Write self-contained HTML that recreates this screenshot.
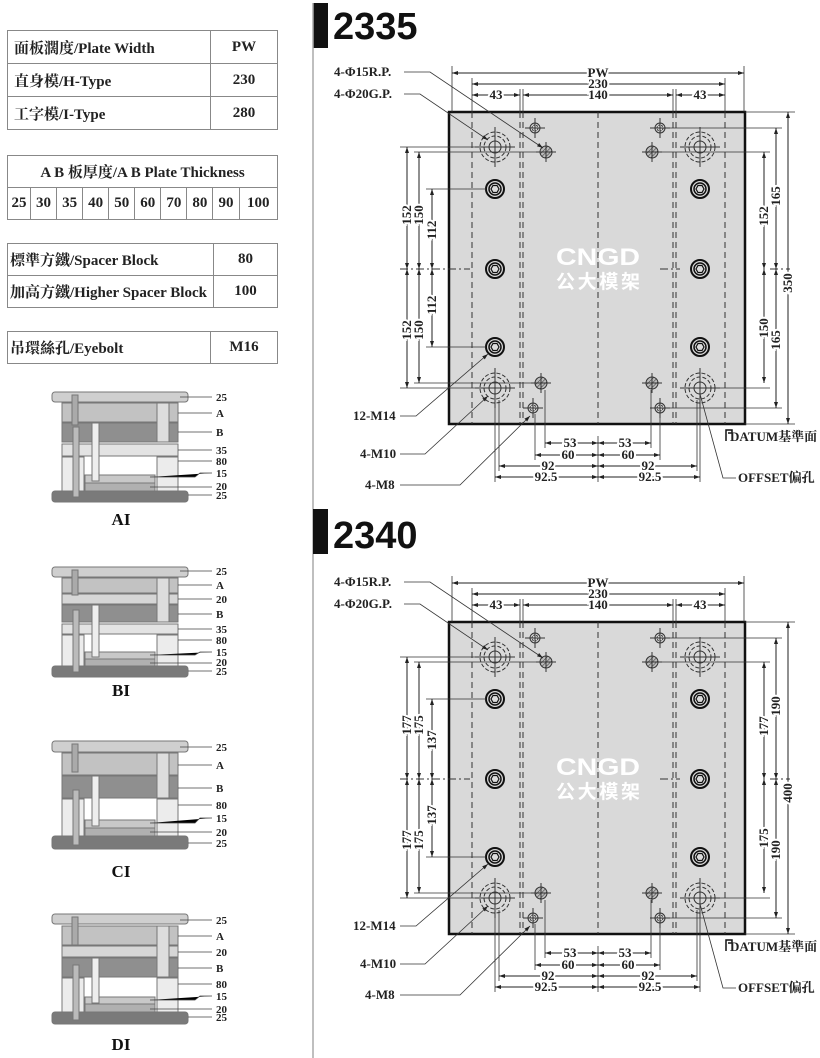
<!DOCTYPE html>
<html><head><meta charset="utf-8">
<style>
html,body{margin:0;padding:0;background:#fff;}
body{width:820px;height:1058px;position:relative;overflow:hidden;font-family:"Liberation Serif","Noto Serif CJK SC",serif;}
table{position:absolute;left:7px;border-collapse:collapse;font-weight:bold;font-size:15px;color:#222;}
td{border:1.5px solid #888;padding:0 6px;height:31px;font-family:"Liberation Serif","Noto Serif CJK SC",serif;}
td.v{text-align:center;width:54px;}
.t1 td{height:32px;}
.t2 td{padding:0;text-align:center;}
svg{position:absolute;left:0;top:0;}
.d{font:bold 13px "Liberation Serif",serif;fill:#222;stroke:#fff;stroke-width:4px;paint-order:stroke;}
.l{font:bold 13px "Liberation Serif","Noto Serif CJK SC",serif;fill:#222;}
.m{font:bold 11px "Liberation Serif",serif;fill:#222;}
</style></head><body>
<table class="t1" style="top:30px;width:271px;">
<tr><td>面板濶度/Plate Width</td><td class="v">PW</td></tr>
<tr><td>直身模/H-Type</td><td class="v">230</td></tr>
<tr><td>工字模/I-Type</td><td class="v">280</td></tr>
</table>
<table class="t2" style="top:155px;width:271px;">
<tr><td colspan="10">A B 板厚度/A B Plate Thickness</td></tr>
<tr><td style="width:22px">25</td><td>30</td><td>35</td><td>40</td><td>50</td><td>60</td><td>70</td><td>80</td><td>90</td><td>100</td></tr>
</table>
<table style="top:243px;width:271px;">
<tr><td style="padding-left:2px">標準方鐵/Spacer Block</td><td class="v">80</td></tr>
<tr><td style="padding-left:2px;white-space:nowrap">加高方鐵/Higher Spacer Block</td><td class="v">100</td></tr>
</table>
<table style="top:331px;width:271px;">
<tr><td style="padding-left:2px">吊環絲孔/Eyebolt</td><td class="v">M16</td></tr>
</table>

<svg width="820" height="1058" viewBox="0 0 820 1058">
<defs>
<marker id="a" markerWidth="6" markerHeight="6" refX="6" refY="3" orient="auto-start-reverse" markerUnits="userSpaceOnUse"><path d="M0,1 L6,3 L0,5z" fill="#222"/></marker>
<pattern id="h" width="3" height="3" patternUnits="userSpaceOnUse" patternTransform="rotate(45)"><rect width="3" height="3" fill="#bbb"/><line x1="0" y1="0" x2="0" y2="3" stroke="#333" stroke-width="1"/></pattern>
<g id="scr"><circle r="9" fill="none" stroke="#111" stroke-width="2"/><circle r="6" fill="#ddd" stroke="#111" stroke-width="1.5"/><path d="M4,0 L2,3.5 L-2,3.5 L-4,0 L-2,-3.5 L2,-3.5z" fill="none" stroke="#111" stroke-width="1.2"/></g>
<g id="gp" fill="none" stroke="#333"><circle r="15" stroke-dasharray="4 2"/><circle r="11" stroke-dasharray="4 2"/><circle r="6"/><path d="M-20,0 H20 M0,-20 V20"/></g>
<g id="rp"><circle r="6" fill="url(#h)" stroke="#333"/><path d="M-10,0 H10 M0,-10 V10" stroke="#333"/></g>
<g id="m8" fill="none" stroke="#333"><circle r="5"/><circle r="3" stroke-dasharray="2 1"/><path d="M-10,0 H10 M0,-10 V10"/></g>
<g id="plate">
<rect x="449" y="112" width="296" height="312" fill="#d9d9d9" stroke="#111" stroke-width="2.5"/>
<g stroke="#333" stroke-width="1" stroke-dasharray="6 4" fill="none">
<path d="M472,112V424 M520,112V424 M523,112V424 M598,112V424 M673,112V424 M676,112V424 M725,112V424"/>
</g>
<path d="M400,269 H470 M660,269 H680 M770,269 H790" stroke="#333" stroke-dasharray="8 3 2 3"/>
<use href="#scr" x="495" y="189"/><use href="#scr" x="495" y="269"/><use href="#scr" x="495" y="347"/>
<use href="#scr" x="700" y="189"/><use href="#scr" x="700" y="269"/><use href="#scr" x="700" y="347"/>
<use href="#gp" x="495" y="147"/><use href="#gp" x="700" y="147"/><use href="#gp" x="495" y="388"/><use href="#gp" x="700" y="388"/>
<use href="#rp" x="546" y="152"/><use href="#rp" x="652" y="152"/><use href="#rp" x="541" y="383"/><use href="#rp" x="652" y="383"/>
<use href="#m8" x="535" y="128"/><use href="#m8" x="660" y="128"/><use href="#m8" x="533" y="408"/><use href="#m8" x="660" y="408"/>
<g stroke="#333" stroke-width="0.8" fill="none">
<path d="M452,66V112 M744,66V112 M472,78V112 M725,78V112 M520,89V112 M523,89V112 M673,89V112 M676,89V112"/>
<path d="M400,147H480 M414,152H540 M426,189H486 M426,347H486 M414,383H535 M400,388H480"/>
<path d="M660,128H782 M655,152H770 M706,388H770 M660,408H782 M745,112H795 M745,424H795"/>
<path d="M545,390V448 M651,390V448 M535,414V460 M660,414V460 M499,400V471 M697,400V471 M495,400V482 M700,400V482 M598,436V482"/>
</g>
<g stroke="#222" stroke-width="1" marker-start="url(#a)" marker-end="url(#a)">
<line x1="452" y1="73" x2="744" y2="73"/><line x1="472" y1="84" x2="725" y2="84"/>
<line x1="472" y1="95" x2="520" y2="95"/><line x1="523" y1="95" x2="673" y2="95"/><line x1="676" y1="95" x2="725" y2="95"/>
<line x1="407" y1="147" x2="407" y2="269"/><line x1="407" y1="269" x2="407" y2="388"/>
<line x1="419" y1="152" x2="419" y2="269"/><line x1="419" y1="269" x2="419" y2="383"/>
<line x1="432" y1="189" x2="432" y2="269"/><line x1="432" y1="269" x2="432" y2="347"/>
<line x1="764" y1="152" x2="764" y2="269"/><line x1="764" y1="269" x2="764" y2="383"/>
<line x1="776" y1="128" x2="776" y2="269"/><line x1="776" y1="269" x2="776" y2="408"/>
<line x1="788" y1="112" x2="788" y2="424"/>
<line x1="545" y1="443" x2="598" y2="443"/><line x1="598" y1="443" x2="651" y2="443"/>
<line x1="535" y1="455" x2="598" y2="455"/><line x1="598" y1="455" x2="660" y2="455"/>
<line x1="499" y1="466" x2="598" y2="466"/><line x1="598" y1="466" x2="697" y2="466"/>
<line x1="495" y1="477" x2="598" y2="477"/><line x1="598" y1="477" x2="700" y2="477"/>
</g>
<g stroke="#333" stroke-width="0.8" fill="none" marker-end="url(#a)">
<path d="M404,72H430L543,148"/><path d="M404,94H420L488,140"/>
<path d="M400,416H416L488,354"/><path d="M400,454H425L488,396"/><path d="M400,485H460L530,416"/>
</g>
<path d="M736,478H723L700,394" stroke="#333" stroke-width="0.8" fill="none"/>
<path d="M726,441V430H732V433H728" stroke="#111" stroke-width="1.5" fill="none"/>
<text x="556" y="265" font-family="Liberation Sans,sans-serif" font-weight="bold" font-size="24" fill="#fff" textLength="84" lengthAdjust="spacingAndGlyphs">CNGD</text>
<text x="556" y="288" font-family="Noto Sans CJK SC,sans-serif" font-weight="bold" font-size="19" fill="#fff" textLength="84" lengthAdjust="spacing">公大模架</text>
<g class="d" text-anchor="middle">
<text x="598" y="77">PW</text><text x="598" y="88">230</text>
<text x="496" y="99">43</text><text x="598" y="99">140</text><text x="700" y="99">43</text>
<text x="570" y="447">53</text><text x="625" y="447">53</text>
<text x="568" y="459">60</text><text x="628" y="459">60</text>
<text x="548" y="470">92</text><text x="648" y="470">92</text>
<text x="546" y="481">92.5</text><text x="650" y="481">92.5</text>
</g>
<g class="l"><text x="334" y="76">4-Φ15R.P.</text><text x="334" y="98">4-Φ20G.P.</text>
<text x="353" y="420">12-M14</text><text x="360" y="458">4-M10</text><text x="365" y="489">4-M8</text>
<text x="730" y="441">DATUM基準面</text><text x="738" y="482">OFFSET偏孔</text></g>
</g>
</defs>

<rect x="313" y="3" width="15" height="45" fill="#111"/>
<line x1="313" y1="3" x2="313" y2="1058" stroke="#aaa" stroke-width="1.5"/>
<rect x="313" y="509" width="15" height="45" fill="#111"/>
<text x="333" y="39" font-family="Liberation Sans,sans-serif" font-weight="bold" font-size="38" fill="#111">2335</text>
<text x="333" y="548" font-family="Liberation Sans,sans-serif" font-weight="bold" font-size="38" fill="#111">2340</text>

<use href="#plate"/>
<use href="#plate" y="510"/>

<g class="d" text-anchor="middle">
<text transform="translate(411,215) rotate(-90)">152</text><text transform="translate(423,215) rotate(-90)">150</text><text transform="translate(436,230) rotate(-90)">112</text>
<text transform="translate(411,330) rotate(-90)">152</text><text transform="translate(423,330) rotate(-90)">150</text><text transform="translate(436,305) rotate(-90)">112</text>
<text transform="translate(768,216) rotate(-90)">152</text><text transform="translate(780,196) rotate(-90)">165</text>
<text transform="translate(768,328) rotate(-90)">150</text><text transform="translate(780,340) rotate(-90)">165</text>
<text transform="translate(792,283) rotate(-90)">350</text>
</g>
<g class="d" text-anchor="middle" transform="translate(0,510)">
<text transform="translate(411,215) rotate(-90)">177</text><text transform="translate(423,215) rotate(-90)">175</text><text transform="translate(436,230) rotate(-90)">137</text>
<text transform="translate(411,330) rotate(-90)">177</text><text transform="translate(423,330) rotate(-90)">175</text><text transform="translate(436,305) rotate(-90)">137</text>
<text transform="translate(768,216) rotate(-90)">177</text><text transform="translate(780,196) rotate(-90)">190</text>
<text transform="translate(768,328) rotate(-90)">175</text><text transform="translate(780,340) rotate(-90)">190</text>
<text transform="translate(792,283) rotate(-90)">400</text>
</g>

<g stroke="#777" stroke-width="1">
<rect x="52" y="392" width="136" height="10" rx="3" fill="#cfcfcf"/>
<rect x="62" y="403" width="116" height="19" fill="#c2c2c2"/>
<rect x="62" y="423" width="116" height="19" fill="#8f8f8f"/>
<rect x="62" y="444" width="116" height="12" fill="#e3e3e3"/>
<rect x="62" y="457" width="22" height="34" fill="#ececec"/><rect x="157" y="457" width="21" height="34" fill="#ececec"/>
<rect x="85" y="475" width="70" height="8" fill="#c8c8c8"/><rect x="85" y="483" width="70" height="8" fill="#b0b0b0"/>
<rect x="52" y="491" width="136" height="11" rx="3" fill="#7a7a7a"/>
<rect x="92" y="423" width="7" height="58" fill="#eee"/><rect x="157" y="403" width="12" height="39" fill="#ddd"/>
<rect x="72" y="395" width="6" height="30" fill="#aaa"/><rect x="73" y="427" width="6" height="70" fill="#bbb"/>

<rect x="52" y="567" width="136" height="10" rx="3" fill="#cfcfcf"/>
<rect x="62" y="578" width="116" height="15" fill="#c2c2c2"/>
<rect x="62" y="594" width="116" height="10" fill="#d6d6d6"/>
<rect x="62" y="605" width="116" height="17" fill="#8f8f8f"/>
<rect x="62" y="624" width="116" height="10" fill="#e3e3e3"/>
<rect x="62" y="635" width="22" height="31" fill="#ececec"/><rect x="157" y="635" width="21" height="31" fill="#ececec"/>
<rect x="85" y="652" width="70" height="7" fill="#c8c8c8"/><rect x="85" y="659" width="70" height="7" fill="#b0b0b0"/>
<rect x="52" y="666" width="136" height="11" rx="3" fill="#7a7a7a"/>
<rect x="92" y="605" width="7" height="52" fill="#eee"/><rect x="157" y="578" width="12" height="44" fill="#ddd"/>
<rect x="72" y="570" width="6" height="25" fill="#aaa"/><rect x="73" y="610" width="6" height="62" fill="#bbb"/>

<rect x="52" y="741" width="136" height="11" rx="3" fill="#cfcfcf"/>
<rect x="62" y="753" width="116" height="22" fill="#c2c2c2"/>
<rect x="62" y="776" width="116" height="22" fill="#8f8f8f"/>
<rect x="62" y="799" width="22" height="37" fill="#ececec"/><rect x="157" y="799" width="21" height="37" fill="#ececec"/>
<rect x="85" y="820" width="70" height="8" fill="#c8c8c8"/><rect x="85" y="828" width="70" height="8" fill="#b0b0b0"/>
<rect x="52" y="836" width="136" height="13" rx="3" fill="#7a7a7a"/>
<rect x="92" y="776" width="7" height="50" fill="#eee"/><rect x="157" y="753" width="12" height="45" fill="#ddd"/>
<rect x="72" y="744" width="6" height="28" fill="#aaa"/><rect x="73" y="790" width="6" height="55" fill="#bbb"/>

<rect x="52" y="914" width="136" height="10" rx="3" fill="#cfcfcf"/>
<rect x="62" y="926" width="116" height="19" fill="#c2c2c2"/>
<rect x="62" y="946" width="116" height="11" fill="#d6d6d6"/>
<rect x="62" y="958" width="116" height="19" fill="#8f8f8f"/>
<rect x="62" y="978" width="22" height="34" fill="#ececec"/><rect x="157" y="978" width="21" height="34" fill="#ececec"/>
<rect x="85" y="997" width="70" height="7" fill="#c8c8c8"/><rect x="85" y="1004" width="70" height="8" fill="#b0b0b0"/>
<rect x="52" y="1012" width="136" height="12" rx="3" fill="#7a7a7a"/>
<rect x="92" y="958" width="7" height="45" fill="#eee"/><rect x="157" y="926" width="12" height="51" fill="#ddd"/>
<rect x="72" y="917" width="6" height="28" fill="#aaa"/><rect x="73" y="965" width="6" height="55" fill="#bbb"/>
</g>
<g stroke="#444" stroke-width="0.8">
<path d="M180,397H212 M178,413H212 M178,432H212 M178,450H212 M178,461H212 M150,477H195L200,473H212 M150,487H212 M188,495H212"/>
<path d="M180,571H212 M178,585H212 M178,599H212 M178,614H212 M178,629H212 M178,640H212 M150,655H195L200,652H212 M150,663H212 M188,671H212"/>
<path d="M180,747H212 M178,765H212 M178,788H212 M178,805H212 M150,823H195L200,818H212 M150,832H212 M188,843H212"/>
<path d="M180,920H212 M178,936H212 M178,952H212 M178,968H212 M178,984H212 M150,1000H195L200,996H212 M150,1009H212 M188,1017H212"/>
</g>
<g class="m">
<text x="216" y="401">25</text><text x="216" y="417">A</text><text x="216" y="436">B</text><text x="216" y="454">35</text><text x="216" y="465">80</text><text x="216" y="477">15</text><text x="216" y="490">20</text><text x="216" y="499">25</text>
<text x="216" y="575">25</text><text x="216" y="589">A</text><text x="216" y="603">20</text><text x="216" y="618">B</text><text x="216" y="633">35</text><text x="216" y="644">80</text><text x="216" y="656">15</text><text x="216" y="666">20</text><text x="216" y="675">25</text>
<text x="216" y="751">25</text><text x="216" y="769">A</text><text x="216" y="792">B</text><text x="216" y="809">80</text><text x="216" y="822">15</text><text x="216" y="836">20</text><text x="216" y="847">25</text>
<text x="216" y="924">25</text><text x="216" y="940">A</text><text x="216" y="956">20</text><text x="216" y="972">B</text><text x="216" y="988">80</text><text x="216" y="1000">15</text><text x="216" y="1013">20</text><text x="216" y="1021">25</text>
</g>
<g font-family="Liberation Serif,serif" font-weight="bold" font-size="17" fill="#111" text-anchor="middle">
<text x="121" y="525">AI</text><text x="121" y="696">BI</text><text x="121" y="877">CI</text><text x="121" y="1050">DI</text>
</g>
</svg>
</body></html>
